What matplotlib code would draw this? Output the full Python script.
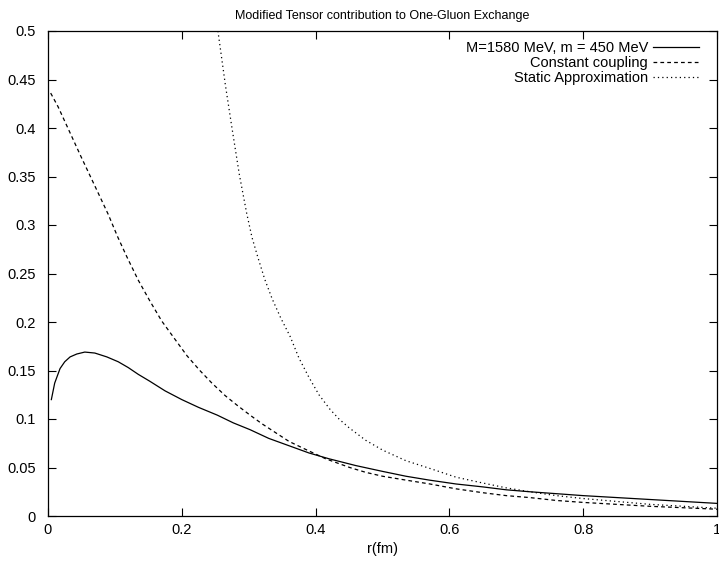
import matplotlib
matplotlib.use('Agg')
import matplotlib.pyplot as plt

# значения
r_full = [0.005, 0.01, 0.018, 0.025, 0.033, 0.043, 0.055, 0.07, 0.088, 0.105,
          0.12, 0.135, 0.152, 0.175, 0.2, 0.225, 0.253, 0.277, 0.302, 0.33,
          0.362, 0.39, 0.42, 0.46, 0.5, 0.535, 0.57, 0.61, 0.65, 0.685,
          0.72, 0.76, 0.8, 0.85, 0.9, 0.95, 1.0]
v_full = [0.120, 0.137, 0.152, 0.159, 0.164, 0.167, 0.169, 0.168, 0.164, 0.159,
          0.153, 0.146, 0.139, 0.129, 0.120, 0.112, 0.104, 0.096, 0.089, 0.080,
          0.072, 0.065, 0.059, 0.052, 0.046, 0.041, 0.037, 0.033, 0.030, 0.027,
          0.025, 0.023, 0.021, 0.019, 0.017, 0.015, 0.013]

r_const = [0.004, 0.015, 0.025, 0.037, 0.049, 0.062, 0.075, 0.09, 0.104, 0.118,
           0.135, 0.152, 0.17, 0.19, 0.208, 0.227, 0.245, 0.265, 0.283, 0.302,
           0.32, 0.34, 0.36, 0.381, 0.415, 0.451, 0.475, 0.5, 0.535, 0.571,
           0.61, 0.65, 0.685, 0.72, 0.76, 0.8, 0.85, 0.9, 0.95, 1.0]
v_const = [0.436, 0.422, 0.407, 0.389, 0.371, 0.352, 0.333, 0.311, 0.288, 0.267,
           0.243, 0.222, 0.201, 0.182, 0.165, 0.150, 0.137, 0.124, 0.114, 0.104,
           0.095, 0.086, 0.077, 0.070, 0.059, 0.050, 0.045, 0.041, 0.037, 0.033,
           0.028, 0.024, 0.021, 0.019, 0.016, 0.014, 0.012, 0.010, 0.0085, 0.007]

r_static = [0.254, 0.265, 0.275, 0.286, 0.297, 0.305, 0.314, 0.324, 0.335, 0.348,
            0.362, 0.375, 0.39, 0.405, 0.4215, 0.435, 0.45, 0.475, 0.5, 0.535,
            0.571, 0.61, 0.65, 0.685, 0.72, 0.76, 0.8, 0.85, 0.9, 0.95, 1.0]
v_static = [0.500, 0.445, 0.400, 0.352, 0.312, 0.287, 0.266, 0.244, 0.224, 0.204,
            0.185, 0.163, 0.143, 0.125, 0.110, 0.100, 0.091, 0.078, 0.068, 0.057,
            0.049, 0.040, 0.034, 0.029, 0.025, 0.021, 0.018, 0.015, 0.012, 0.010, 0.008]

labels = ['M=1580 MeV, m = 450 MeV', 'Constant coupling', 'Static Approximation']
x_ticks = [0, 0.2, 0.4, 0.6, 0.8, 1]
x_tick_labels = ['0', '0.2', '0.4', '0.6', '0.8', '1']
y_ticks = [0, 0.05, 0.1, 0.15, 0.2, 0.25, 0.3, 0.35, 0.4, 0.45, 0.5]
y_tick_labels = ['0', '0.05', '0.1', '0.15', '0.2', '0.25', '0.3', '0.35', '0.4', '0.45', '0.5']

plt.rcParams['font.family'] = ['Liberation Sans', 'DejaVu Sans']
plt.rcParams['font.size'] = 10.5

fig = plt.figure(figsize=(7.19, 5.70), dpi=100)
ax = fig.add_axes([48 / 719, 1 - 516 / 570, 669 / 719, 485 / 570])

ax.plot(r_full, v_full, color='black', lw=0.9, label=labels[0])
ax.plot(r_const, v_const, color='black', lw=0.9, linestyle=(0, (3, 2.5)), label=labels[1])
ax.plot(r_static, v_static, color='black', lw=0.9, linestyle=(0, (1, 2.5)), label=labels[2])

ax.set_xlim(0, 1)
ax.set_ylim(0, 0.5)
ax.set_xticks(x_ticks)
ax.set_xticklabels(x_tick_labels)
ax.set_yticks(y_ticks)
ax.set_yticklabels(y_tick_labels)
ax.tick_params(direction='in', top=True, right=True, length=6, width=0.8)
ax.tick_params(axis='y', pad=9)
ax.tick_params(axis='x', pad=5)
for s in ax.spines.values():
    s.set_linewidth(0.9)

ax.set_title('Modified Tensor contribution to One-Gluon Exchange', fontsize=9, pad=9)
ax.set_xlabel('r(fm)', labelpad=4)

leg = ax.legend(loc='upper right', bbox_to_anchor=(1 - 18 / 669, 1 - 10 / 485),
                frameon=False, markerfirst=False, handlelength=3.15,
                handletextpad=0.35, labelspacing=0.08, borderaxespad=0, borderpad=0)
# выравнивание подписей по правому краю, как в gnuplot
for col in leg._legend_handle_box.get_children():
    col.align = 'right'

plt.savefig('out.png', dpi=100)
